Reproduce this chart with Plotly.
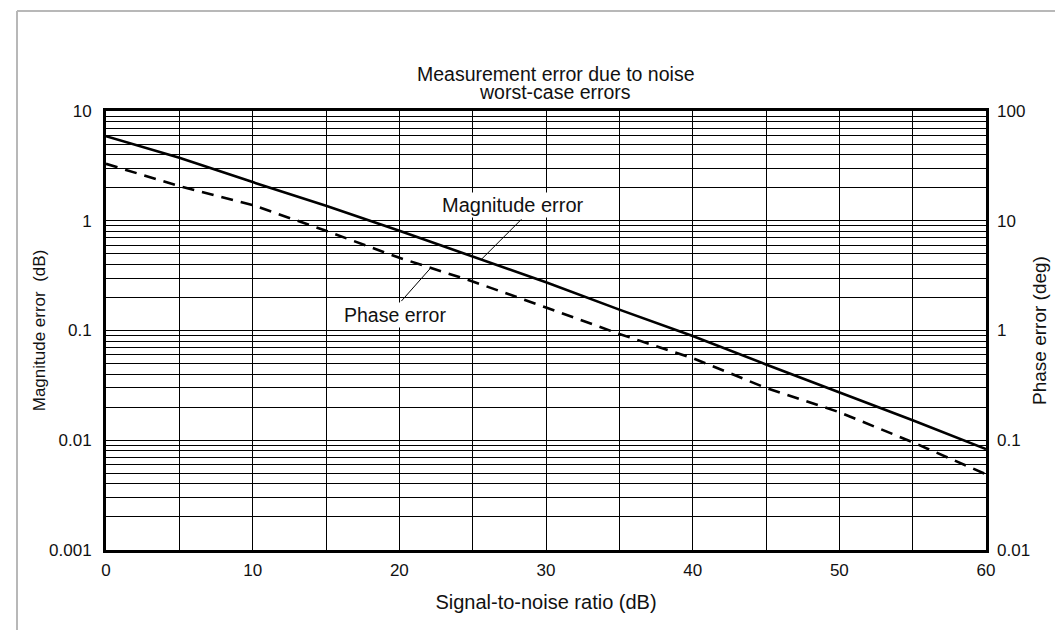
import plotly.graph_objects as go

# ---- data ----
snr_db = [0, 5, 10, 15, 20, 25, 30, 35, 40, 45, 50, 55, 60]
magnitude_error_db = [5.9, 3.75, 2.25, 1.37, 0.81, 0.47, 0.275, 0.155, 0.089, 0.049, 0.0275, 0.0152, 0.0083]
phase_error_deg = [33.0, 20.7, 13.9, 8.1, 4.6, 2.8, 1.62, 0.93, 0.56, 0.30, 0.18, 0.096, 0.049]

x_tick_vals = list(range(0, 61, 5))
x_tick_text = ["0", "", "10", "", "20", "", "30", "", "40", "", "50", "", "60"]

left_decades = [0.001, 0.01, 0.1, 1]
left_labels = ["0.001", "0.01", "0.1", "1", "10"]
right_vals = [0.01, 0.1, 1, 10, 100]
right_labels = ["0.01", "0.1", "1", "10", "100"]

title_lines = ["Measurement error due to noise", "worst-case errors"]

# minor/major grid positions on the left log axis
y_tick_vals = []
y_tick_text = []
for d, lab in zip(left_decades, left_labels[:-1]):
    for m in range(1, 10):
        y_tick_vals.append(round(d * m, 6))
        y_tick_text.append(lab if m == 1 else "")
y_tick_vals.append(10)
y_tick_text.append(left_labels[-1])

FONT = "Liberation Sans, Arial, Helvetica, sans-serif"
INK = "#111111"

fig = go.Figure()
fig.add_trace(go.Scatter(
    x=snr_db, y=magnitude_error_db, mode="lines", name="Magnitude error",
    line=dict(color="black", width=2.6), yaxis="y", showlegend=False))
fig.add_trace(go.Scatter(
    x=snr_db, y=phase_error_deg, mode="lines", name="Phase error",
    line=dict(color="black", width=2.6, dash="12px,8px"), yaxis="y2", showlegend=False))

W, H = 1063, 630
L, R, T, B = 98, 85, 103, 88
pw, ph = W - L - R, H - T - B

def px(xp):
    return (xp - L) / pw

def py(yp):
    return (H - B - yp) / ph

fig.update_layout(
    width=W, height=H,
    margin=dict(l=L, r=R, t=T, b=B, autoexpand=False),
    paper_bgcolor="white", plot_bgcolor="white",
    font=dict(family=FONT, size=17, color=INK),
    xaxis=dict(
        range=[0, 60], tickvals=x_tick_vals, ticktext=x_tick_text,
        showgrid=True, gridcolor="black", gridwidth=1.3,
        showline=True, linecolor="black", linewidth=3, mirror=True,
        ticks="", ticklabelstandoff=3, zeroline=False, automargin=False,
        tickfont=dict(family=FONT, size=17, color=INK),
        title=dict(text="Signal-to-noise ratio (dB)", standoff=16,
                   font=dict(family=FONT, size=20, color=INK)),
    ),
    yaxis=dict(
        type="log", range=[-3, 1], tickvals=y_tick_vals, ticktext=y_tick_text,
        showgrid=True, gridcolor="black", gridwidth=1.3,
        showline=True, linecolor="black", linewidth=3, mirror=True,
        ticks="", ticklabelstandoff=8, zeroline=False, automargin=False,
        tickfont=dict(family=FONT, size=17, color=INK),
        title=dict(text="Magnitude error  (dB)", standoff=0,
                   font=dict(family=FONT, size=17, color=INK)),
    ),
    yaxis2=dict(
        type="log", range=[-2, 2], overlaying="y", side="right",
        tickvals=right_vals, ticktext=right_labels,
        showgrid=False, showline=False, zeroline=False, automargin=False,
        ticks="", ticklabelstandoff=10,
        tickfont=dict(family=FONT, size=17, color=INK),
        title=dict(text="Phase error (deg)", standoff=3,
                   font=dict(family=FONT, size=19, color=INK)),
    ),
    annotations=[
        dict(text=title_lines[0], xref="paper", yref="paper", x=px(547), y=py(66),
             showarrow=False, xanchor="center", yanchor="middle",
             font=dict(family=FONT, size=19.5, color=INK)),
        dict(text=title_lines[1], xref="paper", yref="paper", x=px(547), y=py(84),
             showarrow=False, xanchor="center", yanchor="middle",
             font=dict(family=FONT, size=19.5, color=INK)),
        # curve labels (white boxes hide the grid behind them)
        dict(text="Magnitude error", xref="x", yref="y", x=27.75, y=0.145,
             showarrow=False, bgcolor="white", borderpad=1,
             font=dict(family=FONT, size=20, color=INK)),
        dict(text="Phase error", xref="x", yref="y", x=19.7, y=-0.855,
             showarrow=False, bgcolor="white", borderpad=1,
             font=dict(family=FONT, size=19.5, color=INK)),
        # leader lines
        dict(text="", xref="x", yref="y", x=25.57, y=-0.355, ax=42, ay=-42,
             showarrow=True, arrowhead=0, arrowwidth=1, arrowcolor="black"),
        dict(text="", xref="x", yref="y", x=22.16, y=-0.427, ax=-31, ay=35,
             showarrow=True, arrowhead=0, arrowwidth=1, arrowcolor="black"),
    ],
    shapes=[
        dict(type="line", xref="paper", yref="paper", x0=px(9), x1=px(9),
             y0=py(3), y1=py(H), line=dict(color="#b8b8b8", width=2)),
        dict(type="line", xref="paper", yref="paper", x0=px(9), x1=px(W),
             y0=py(3), y1=py(3), line=dict(color="#b8b8b8", width=2)),
    ],
)

fig.write_html("out.html")
